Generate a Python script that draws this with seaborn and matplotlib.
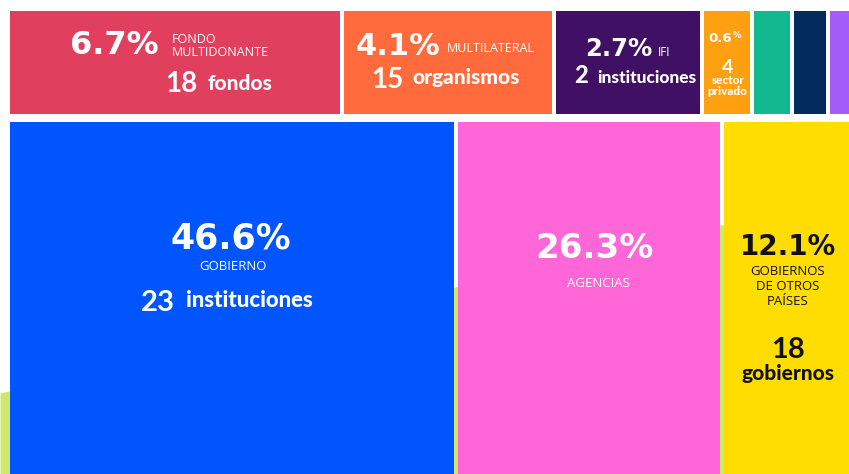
import numpy as np
import seaborn as sns
import matplotlib.pyplot as plt

sns.set_theme(style="white")
plt.rcParams['font.family'] = ['Lato', 'DejaVu Sans']

# fila superior (porcentaje del total)
top_pct = [6.7, 4.1, 2.7, 0.6, 0.4, 0.3, 0.2]
top_colors = ["#e0405e", "#ff6b3d", "#3f1063", "#ffa010", "#12b890", "#032b5e", "#a35cf7"]
top_labels = ["FONDO\nMULTIDONANTE", "MULTILATERAL", "IFI", "sector\nprivado", "", "", ""]
top_counts = ["18", "15", "2", "4", "", "", ""]
top_units = ["fondos", "organismos", "instituciones", "", "", "", ""]

# fila inferior
bot_pct = [46.6, 26.3, 12.1]
bot_colors = ["#0055ff", "#ff66d8", "#ffdd00"]
bot_labels = ["GOBIERNO", "AGENCIAS", "GOBIERNOS\nDE OTROS\nPAÍSES"]
bot_counts = ["23", "", "18"]
bot_units = ["instituciones", "", "gobiernos"]

GREEN = "#cde86a"
HEAVY = dict(fontweight="bold", family=["DejaVu Sans"])


def row_layout(pct, scale, base, start=10, gap=4):
    widths = np.array(pct) * scale + base
    lefts = start + np.concatenate([[0], np.cumsum(widths + gap)[:-1]])
    return lefts, widths


fig = plt.figure(figsize=(8.49, 4.74), dpi=100)
ax = fig.add_axes([0, 0, 1, 1])
ax.set_xlim(0, 849)
ax.set_ylim(474, 0)
ax.axis("off")

# fondo verde inclinado
xs = np.linspace(0, 849, 50)
ax.fill_between(xs, 393 - 0.233 * xs, 474, color=GREEN, lw=0, zorder=0)

tl, tw = row_layout(top_pct, 46.5, 18)
ax.bar(tl, 103, width=tw, bottom=11, align="edge", color=top_colors, lw=0, zorder=1)
bl, bw = row_layout(bot_pct, 9.0, 25)
ax.bar(bl, 360, width=bw, bottom=122, align="edge", color=bot_colors, lw=0, zorder=1)

W = "white"
tc = tl + tw / 2
bc = bl + bw / 2

# --- fila superior ---
# fondo multidonante
cx = tc[0]
ax.text(cx - 16, 54, f"{top_pct[0]}%", ha="right", va="baseline", fontsize=23, color=W, **HEAVY)
ax.text(cx - 3, 56, top_labels[0], ha="left", va="baseline", fontsize=9, color=W,
        family="Open Sans", linespacing=1.0)
ax.text(cx + 23, 92, top_counts[0], ha="right", va="baseline", fontsize=20, color=W, fontweight="bold")
ax.text(cx + 33, 90, top_units[0], ha="left", va="baseline", fontsize=15, color=W, fontweight="black")

# multilateral
cx = tc[1]
ax.text(cx - 7, 55, f"{top_pct[1]}%", ha="right", va="baseline", fontsize=22, color=W, **HEAVY)
ax.text(cx - 1, 52, top_labels[1], ha="left", va="baseline", fontsize=9, color=W, family="Open Sans")
ax.text(cx - 44, 88, top_counts[1], ha="right", va="baseline", fontsize=20, color=W, fontweight="bold")
ax.text(cx - 35, 84, top_units[1], ha="left", va="baseline", fontsize=15, color=W, fontweight="black")

# IFI
cx = tc[2]
ax.text(cx + 24, 56, f"{top_pct[2]}%", ha="right", va="baseline", fontsize=17.5, color=W, **HEAVY)
ax.text(cx + 30, 56, top_labels[2], ha="left", va="baseline", fontsize=8.5, color=W, family="Open Sans")
ax.text(cx - 40, 83, top_counts[2], ha="right", va="baseline", fontsize=17, color=W, fontweight="black")
ax.text(cx - 31, 83, top_units[2], ha="left", va="baseline", fontsize=12.5, color=W, fontweight="black")

# sector privado
cx = tc[3] + 1
ax.text(cx + 4, 42, f"{top_pct[3]}", ha="right", va="baseline", fontsize=9.5, color=W, **HEAVY)
ax.text(cx + 5, 38, "%", ha="left", va="baseline", fontsize=6, color=W, **HEAVY)
ax.text(cx, 73, top_counts[3], ha="center", va="baseline", fontsize=14, color=W, fontweight="bold")
ax.text(cx, 95, top_labels[3], ha="center", va="baseline", fontsize=8.5, color=W,
        fontweight="black", linespacing=0.95)

# --- fila inferior ---
cx = bc[0]
ax.text(cx - 1, 248, f"{bot_pct[0]}%", ha="center", va="baseline", fontsize=25, color=W, **HEAVY)
ax.text(cx + 1, 270, bot_labels[0], ha="center", va="baseline", fontsize=9.5, color=W, family="Open Sans")
ax.text(cx - 57, 311, bot_counts[0], ha="right", va="baseline", fontsize=21, color=W, fontweight="bold")
ax.text(cx - 46, 307, bot_units[0], ha="left", va="baseline", fontsize=16, color=W, fontweight="black")

cx = bc[1]
ax.text(cx + 5, 258, f"{bot_pct[1]}%", ha="center", va="baseline", fontsize=24.5, color=W, **HEAVY)
ax.text(cx + 9, 287, bot_labels[1], ha="center", va="baseline", fontsize=9.5, color=W, family="Open Sans")

K = "#111111"
cx = bc[2] - 3
ax.text(cx, 255, f"{bot_pct[2]}%", ha="center", va="baseline", fontsize=20, color=K, **HEAVY)
ax.text(cx, 305, bot_labels[2], ha="center", va="baseline", fontsize=9.5, color=K,
        family="Open Sans", linespacing=1.2)
ax.text(cx, 358, bot_counts[2], ha="center", va="baseline", fontsize=21, color=K, fontweight="bold")
ax.text(cx, 380, bot_units[2], ha="center", va="baseline", fontsize=15, color=K, fontweight="black")

fig.savefig("out.png", dpi=100, facecolor="white")
